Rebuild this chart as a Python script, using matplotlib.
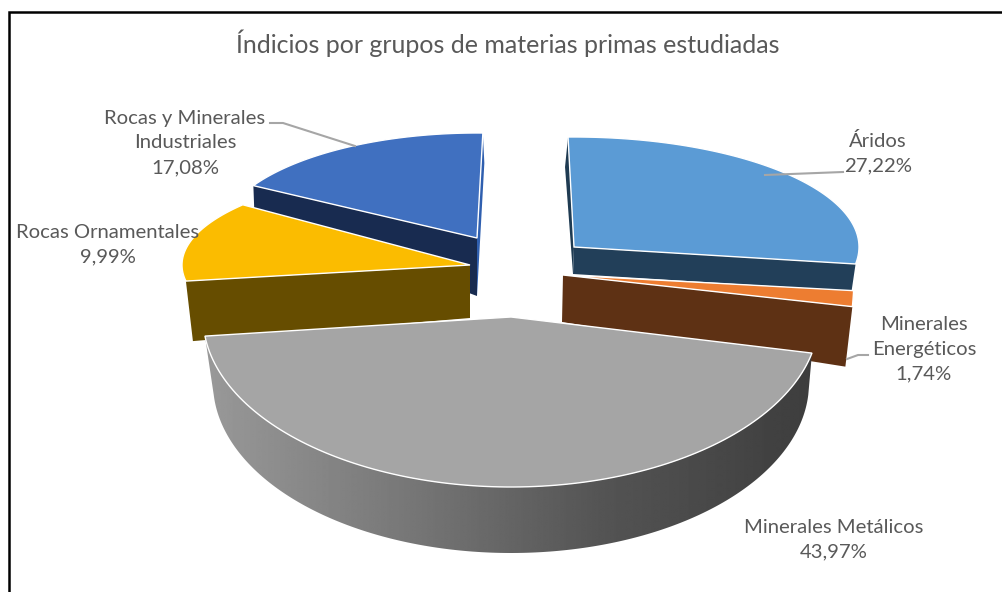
import numpy as np
import matplotlib
matplotlib.use("Agg")
import matplotlib.pyplot as plt
from matplotlib.patches import Polygon

title = "Índicios por grupos de materias primas estudiadas"
categories = ["Áridos", "Minerales\nEnergéticos", "Minerales Metálicos",
              "Rocas Ornamentales", "Rocas y Minerales\nIndustriales"]
values = [27.22, 1.74, 43.97, 9.99, 17.08]

# style / layout of the exploded, perspective pie (pixel space)
START = -2.0
TOP = ["#5B9BD5", "#ED7D31", "#A5A5A5", "#FBBC00", "#4070C0"]
WALL = ["#223F59", "#5E3114", "#808080", "#664D00", "#182B50"]
SLIVER = ["#1F3B52", None, None, None, "#2F5FAF"]
GEOM = [  # apex x, apex y, rx, ry, angle shift start, angle shift end
    (574, 247, 285, 110, 0.8, 2.9),
    (563, 275, 291, 300, -3.0, -6.2),
    (511, 317, 308, 170, 0, 3.0),
    (470, 265, 288, 98, 0, 11.4),
    (477, 238, 258, 105, 3.4, 3.3),
]
# offsets of the bottom of the cut faces: (rim dx, rim dy, apex dx, apex dy)
FACE = [(-4, 27, -1, 27), (-7, 60, -1, 47), None, (7, 60, 0, 53), (1, 27, 0, 58)]
BACK = [(-3, 30, -1, 27), None, None, None, (1.5, 30, 0, 58)]
LABEL_POS = [(878, 153), (924, 349), (834, 540), (108, 245), (185, 143)]
LEADERS = [[(765, 175), (843, 172)],
           [(847, 359), (858, 355), (868, 355)],
           None, None,
           [(355, 146), (283, 123), (270, 123)]]

fig = plt.figure(figsize=(10.02, 5.92), dpi=100, facecolor="white")
ax = fig.add_axes([0, 0, 1, 1])
ax.set_xlim(0, 1002)
ax.set_ylim(592, 0)
ax.axis("off")

edges = START + np.concatenate([[0], np.cumsum(values)]) * 3.6


def rim(i, t):
    cx, cy, rx, ry = GEOM[i][:4]
    r = np.radians(t)
    return np.column_stack([cx + rx * np.sin(r), cy - ry * np.cos(r)])


def span(i):
    return edges[i] + GEOM[i][4], edges[i + 1] + GEOM[i][5]


def face(i, t, off, color, z):
    p = rim(i, [t])[0]
    a = np.array(GEOM[i][:2], float)
    pts = [p, a, a + off[2:], p + off[:2]]
    ax.add_patch(Polygon(pts, closed=True, fc=color, ec="none", zorder=z))


def top(i, z):
    t0, t1 = span(i)
    pts = np.vstack([[GEOM[i][:2]], rim(i, np.linspace(t0, t1, 120))])
    ax.add_patch(Polygon(pts, closed=True, fc=TOP[i], ec="white", lw=1.0, zorder=z))


order = [4, 0, 1, 3]
for k, i in enumerate(order):
    z = 2 + k
    t0, t1 = span(i)
    if BACK[i]:
        face(i, t1 if i == 4 else t0, BACK[i], SLIVER[i], z)
    if i in (0, 1):
        face(i, t1, FACE[i], WALL[i], z)
    else:
        face(i, t0, FACE[i], WALL[i], z)
    top(i, z + 0.5)

# front wall of the large slice with its horizontal shading
i = 2
t0, t1 = span(i)
cx, cy, rx, ry = GEOM[i][:4]
depth, inner = 66, 298
upper = rim(i, np.linspace(t0, t1, 200))
tt = np.radians(np.linspace(266, 94, 200))
lower = np.column_stack([cx + inner * np.sin(tt), cy + depth - ry * np.cos(tt)])
wall = Polygon(np.vstack([upper, lower]), closed=True, fc="none", ec="none", zorder=7)
ax.add_patch(wall)
grad = np.interp(np.linspace(0, 1, 400), [0, .35, .65, 1], [.60, .46, .33, .24])
im = ax.imshow(np.tile(grad, (2, 1)), cmap="gray", vmin=0, vmax=1, aspect="auto",
               extent=(205, 815, 560, 330), zorder=7, interpolation="bilinear")
im.set_clip_path(wall)
ax.set_xlim(0, 1002)
ax.set_ylim(592, 0)
top(i, 8)

# frame
ax.plot([9.5, 9.5, 1002], [592, 12, 12], color="black", lw=1.8, zorder=1,
        solid_joinstyle="miter")

FONT = "Lato"
ax.text(508, 43, title, ha="center", va="center", fontsize=18, color="#595959",
        family=FONT, zorder=12)
for name, v, (x, y), ld in zip(categories, values, LABEL_POS, LEADERS):
    s = f"{name}\n{v:.2f}%".replace(".", ",")
    ax.text(x, y, s, ha="center", va="center", fontsize=14.6, color="#595959",
            family=FONT, linespacing=1.55, zorder=12)
    if ld:
        xs, ys = zip(*ld)
        ax.plot(xs, ys, color="#A6A6A6", lw=1.5, zorder=11)

fig.savefig("out.png", dpi=100)
